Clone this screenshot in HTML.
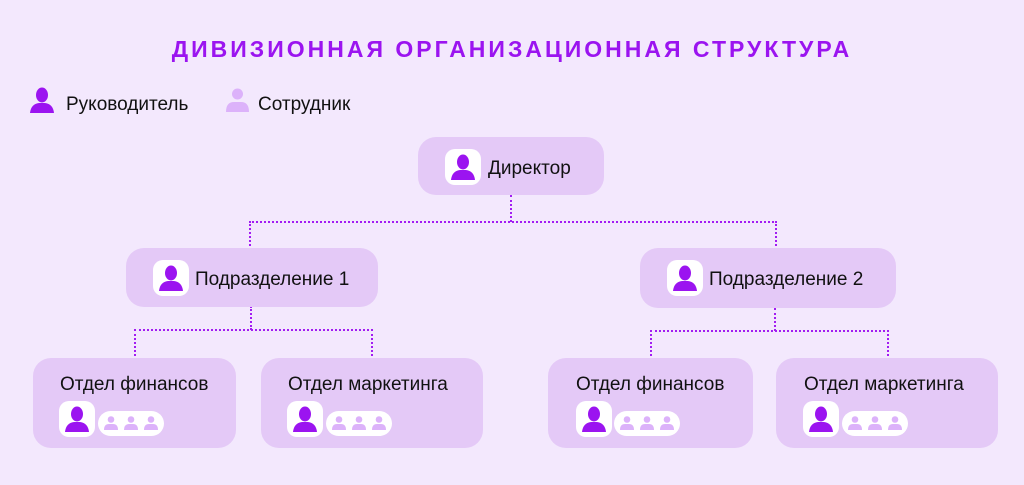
<!DOCTYPE html>
<html><head><meta charset="utf-8"><style>
body{margin:0;width:1024px;height:485px;background:#f3e8fd;position:relative;overflow:hidden;font-family:"Liberation Sans",sans-serif;color:#111}
.a{position:absolute}
.box{position:absolute;background:#e4c9f7;border-radius:18px}
.ic{position:absolute;width:36px;height:36px;background:#fff;border-radius:10px}
.ic svg{position:absolute;left:6px;top:5px}
.pill{position:absolute;width:66px;height:25px;background:#fff;border-radius:13px}
.pill svg{position:absolute;left:6px;top:5px}
.t{position:absolute;font-size:19px;white-space:nowrap;line-height:22px}
.l{position:absolute;border-color:#a21cf2;border-style:dotted;border-width:0}
</style></head><body>
<div class="a" style="left:0;width:1024px;top:36px;text-align:center;font-size:23px;font-weight:bold;color:#9b14f0;letter-spacing:3px">ДИВИЗИОННАЯ ОРГАНИЗАЦИОННАЯ СТРУКТУРА</div>
<svg class="a" style="left:30px;top:87px" width="24" height="26" viewBox="0 0 24 26"><ellipse cx="12" cy="8" rx="6" ry="7.5" fill="#9b14f0"/><path d="M0 26 Q1 17 9 16 L15 16 Q23 17 24 26Z" fill="#9b14f0"/></svg>
<div class="t" style="left:66px;top:94px">Руководитель</div>
<svg class="a" style="left:226px;top:88px" width="23" height="24" viewBox="0 0 23 24"><circle cx="11.5" cy="6" r="5.5" fill="#dcb2fa"/><path d="M0 24 Q0 14 8 14 L15 14 Q23 14 23 24Z" fill="#dcb2fa"/></svg>
<div class="t" style="left:258px;top:94px">Сотрудник</div>

<div class="l" style="left:510px;top:195px;height:27px;border-left-width:2px"></div>
<div class="l" style="left:249px;top:221px;width:524px;height:27px;border-top-width:2px;border-left-width:2px;border-right-width:2px"></div>
<div class="l" style="left:250px;top:306px;height:24px;border-left-width:2px"></div>
<div class="l" style="left:134px;top:329px;width:235px;height:29px;border-top-width:2px;border-left-width:2px;border-right-width:2px"></div>
<div class="l" style="left:774px;top:308px;height:23px;border-left-width:2px"></div>
<div class="l" style="left:650px;top:330px;width:235px;height:28px;border-top-width:2px;border-left-width:2px;border-right-width:2px"></div>

<svg width="0" height="0" style="position:absolute"><defs>
<symbol id="lead" viewBox="0 0 24 26"><ellipse cx="12" cy="8" rx="6" ry="7.5" fill="#9b14f0"/><path d="M0 26 Q1 17 9 16 L15 16 Q23 17 24 26Z" fill="#9b14f0"/></symbol>
<symbol id="emp" viewBox="0 0 14 14"><circle cx="7" cy="3.5" r="3.3" fill="#dcb2fa"/><path d="M0 14 Q0 8 5 8 L9 8 Q14 8 14 14Z" fill="#dcb2fa"/></symbol>
</defs></svg>

<div class="box" style="left:418px;top:137px;width:186px;height:58px"></div>
<div class="ic" style="left:445px;top:149px"><svg width="24" height="26"><use href="#lead"/></svg></div>
<div class="t" style="left:488px;top:158px">Директор</div>

<div class="box" style="left:126px;top:248px;width:252px;height:59px"></div>
<div class="ic" style="left:153px;top:260px"><svg width="24" height="26"><use href="#lead"/></svg></div>
<div class="t" style="left:195px;top:269px">Подразделение 1</div>

<div class="box" style="left:640px;top:248px;width:256px;height:60px"></div>
<div class="ic" style="left:667px;top:260px"><svg width="24" height="26"><use href="#lead"/></svg></div>
<div class="t" style="left:709px;top:269px">Подразделение 2</div>

<div class="box" style="left:33px;top:358px;width:203px;height:90px"></div>
<div class="t" style="left:60px;top:374px">Отдел финансов</div>
<div class="ic" style="left:59px;top:401px"><svg width="24" height="26"><use href="#lead"/></svg></div>
<div class="pill" style="left:98px;top:411px"><svg width="56" height="14"><use href="#emp" x="0" width="14" height="14"/><use href="#emp" x="20" width="14" height="14"/><use href="#emp" x="40" width="14" height="14"/></svg></div>

<div class="box" style="left:261px;top:358px;width:222px;height:90px"></div>
<div class="t" style="left:288px;top:374px">Отдел маркетинга</div>
<div class="ic" style="left:287px;top:401px"><svg width="24" height="26"><use href="#lead"/></svg></div>
<div class="pill" style="left:326px;top:411px"><svg width="56" height="14"><use href="#emp" x="0" width="14" height="14"/><use href="#emp" x="20" width="14" height="14"/><use href="#emp" x="40" width="14" height="14"/></svg></div>

<div class="box" style="left:548px;top:358px;width:205px;height:90px"></div>
<div class="t" style="left:576px;top:374px">Отдел финансов</div>
<div class="ic" style="left:576px;top:401px"><svg width="24" height="26"><use href="#lead"/></svg></div>
<div class="pill" style="left:614px;top:411px"><svg width="56" height="14"><use href="#emp" x="0" width="14" height="14"/><use href="#emp" x="20" width="14" height="14"/><use href="#emp" x="40" width="14" height="14"/></svg></div>

<div class="box" style="left:776px;top:358px;width:222px;height:90px"></div>
<div class="t" style="left:804px;top:374px">Отдел маркетинга</div>
<div class="ic" style="left:803px;top:401px"><svg width="24" height="26"><use href="#lead"/></svg></div>
<div class="pill" style="left:842px;top:411px"><svg width="56" height="14"><use href="#emp" x="0" width="14" height="14"/><use href="#emp" x="20" width="14" height="14"/><use href="#emp" x="40" width="14" height="14"/></svg></div>
</body></html>
